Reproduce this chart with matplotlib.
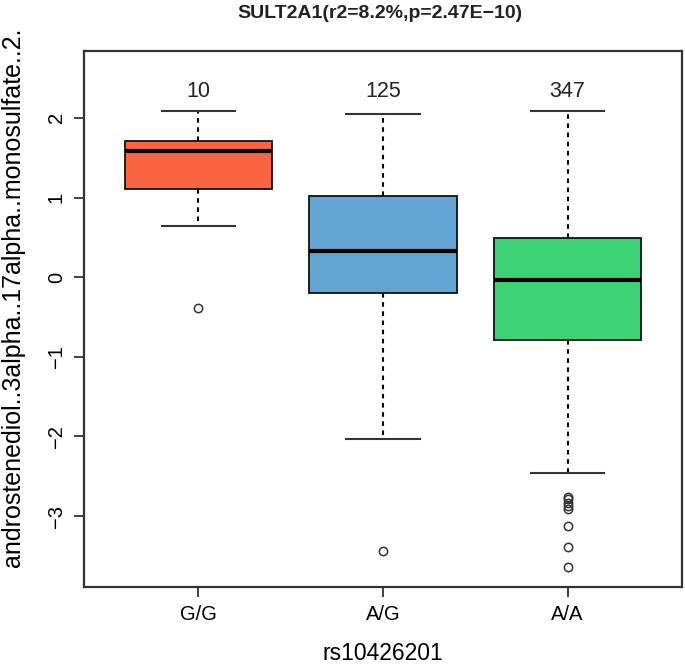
import matplotlib.pyplot as plt

plt.rcParams['font.family'] = ['Liberation Sans', 'DejaVu Sans']

# genotype groups and summary values
groups = ["G/G", "A/G", "A/A"]
counts = [10, 125, 347]
whislo = [0.64, -2.03, -2.46]
q1 = [1.11, -0.20, -0.79]
med = [1.59, 0.33, -0.04]
q3 = [1.71, 1.02, 0.49]
whishi = [2.09, 2.05, 2.09]
fliers = [
    [-0.39],
    [-3.44],
    [-2.76, -2.79, -2.83, -2.87, -2.91, -3.13, -3.39, -3.64],
]
colors = ["#FA6443", "#62A5D3", "#3CD278"]
yticks = [-3, -2, -1, 0, 1, 2]

fig = plt.figure(figsize=(6.85, 6.68), dpi=100)
ax = fig.add_axes([0.1226, 0.1213, 0.873, 0.8024])

stats = []
for i in range(len(groups)):
    stats.append({"whislo": whislo[i], "q1": q1[i], "med": med[i], "q3": q3[i],
                  "whishi": whishi[i], "fliers": fliers[i]})

pos = [1, 2, 3]
bp = ax.bxp(stats, positions=pos, widths=0.8, patch_artist=True,
            showfliers=True,
            boxprops=dict(edgecolor="#111111", linewidth=1.3),
            medianprops=dict(color="black", linewidth=3),
            whiskerprops=dict(color="black", linewidth=1.5, linestyle=(0, (2.2, 2.2))),
            capprops=dict(color="#333333", linewidth=1.5),
            flierprops=dict(marker="o", markerfacecolor="none", markeredgecolor="#333333",
                            markersize=6, markeredgewidth=1.1))
for patch, c in zip(bp["boxes"], colors):
    patch.set_facecolor(c)
for cap in bp["caps"]:
    x0, x1 = cap.get_xdata()
    mid = (x0 + x1) / 2
    cap.set_xdata([mid - 0.2, mid + 0.2])

# sample sizes above each group
for p, n in zip(pos, counts):
    ax.text(p, 2.33, str(n), ha="center", va="center", fontsize=15.5, color="#222222")

ax.set_xlim(0.38, 3.62)
ax.set_ylim(-3.89, 2.84)
ax.set_xticks(pos)
ax.set_xticklabels(groups, fontsize=14.5)
ax.set_yticks(yticks)
ax.set_yticklabels([str(t).replace("-", "\u2212") for t in yticks], fontsize=14.5, rotation=90, va="center")
ax.tick_params(direction="out", length=7, width=1.3, color="#333333", pad=6)
for s in ax.spines.values():
    s.set_linewidth(1.6)
    s.set_color("#333333")

ax.set_xlabel("rs10426201", fontsize=16.5, labelpad=13)
ax.set_ylabel("androstenediol..3alpha..17alpha..monosulfate..2.", fontsize=18)
ax.yaxis.set_label_coords(-0.098, 0.54)
fig.text(0.555, 0.98, "SULT2A1(r2=8.2%,p=2.47E\u221210)", ha="center", va="center",
         fontsize=14, fontweight="bold", color="#222222")

fig.savefig("out.png", dpi=100)
